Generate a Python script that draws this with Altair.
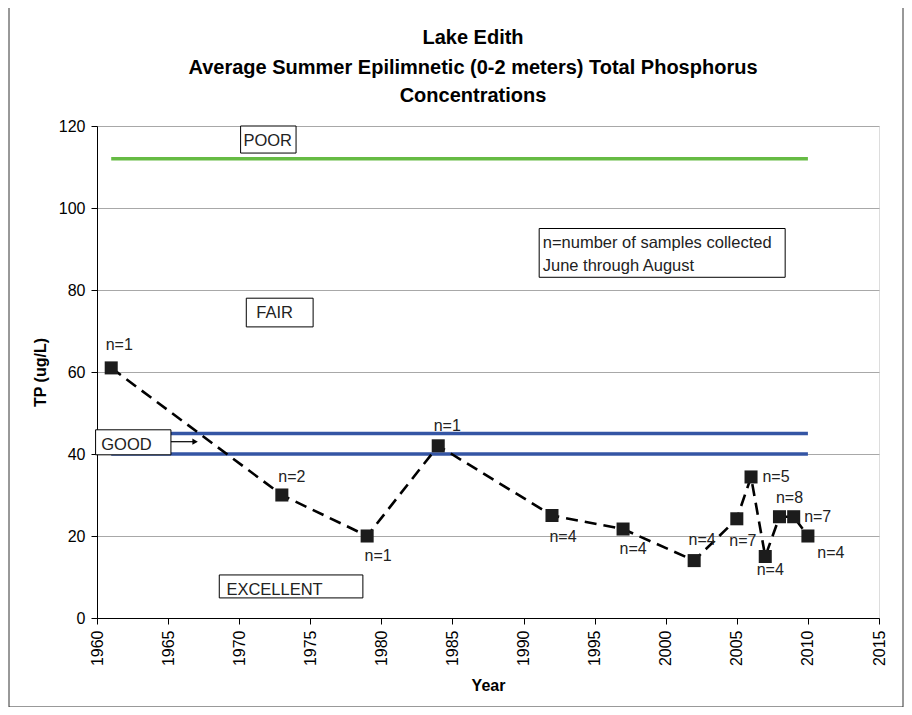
import altair as alt
import pandas as pd

FONT = "Liberation Sans"

# ---- data ----
years = [1961, 1973, 1979, 1984, 1992, 1997, 2002, 2005, 2006, 2007, 2008, 2009, 2010]
tp = [61, 30, 20, 42, 25, 21.7, 14, 24.2, 34.4, 15, 24.7, 24.7, 20]
n_labels = ["n=1", "n=2", "n=1", "n=1", "n=4", "n=4", "n=4", "n=7", "n=5", "n=4", "n=8", "n=7", "n=4"]
# label offsets from their point (pixels)
label_dx = [8, 10, 11, 9, 11, 10, 8, 6, 25, 5, 10, 24, 23]
label_dy = [-23, -18, 20, -20, 21, 20, -21, 22, 0, 13, -19, 0, 17]

x_ticks = list(range(1960, 2016, 5))
y_ticks = list(range(0, 121, 20))

title_lines = ["Lake Edith", "Average Summer Epilimnetic (0-2 meters) Total Phosphorus", "Concentrations"]

thr_values = [112, 45, 40]
thr_colors = ["#66bb44", "#3455a4", "#3455a4"]
thr_start = 1961
thr_end = 2010

# annotation boxes (data coordinates)
box_names = ["POOR", "FAIR", "GOOD", "EXCELLENT", "NOTE"]
box_x1 = [1970.1, 1970.5, 1959.9, 1968.6, 1991.1]
box_x2 = [1974.0, 1975.2, 1965.2, 1978.7, 2008.4]
box_y1 = [113.4, 71.0, 39.8, 4.9, 83.1]
box_y2 = [120.0, 78.0, 45.9, 10.5, 95.0]

txt_lines = ["POOR", "FAIR", "GOOD", "EXCELLENT", "n=number of samples collected", "June through August"]
txt_x = [1970.3, 1971.2, 1960.3, 1969.1, 1991.35, 1991.35]
txt_y = [116.4, 74.4, 42.2, 6.8, 91.4, 85.8]

W, H = 782, 492
XDOM = [1960, 2015]
YDOM = [0, 120]
px_per_year = W / (XDOM[1] - XDOM[0])
px_per_unit = H / (YDOM[1] - YDOM[0])

df = pd.DataFrame({"Year": years, "TP": tp, "n": n_labels})
df["lx"] = [y + dx / px_per_year for y, dx in zip(years, label_dx)]
df["ly"] = [v - dy / px_per_unit for v, dy in zip(tp, label_dy)]

thr = pd.DataFrame({"v": thr_values, "c": thr_colors, "x1": thr_start, "x2": thr_end})
boxes = pd.DataFrame({"name": box_names, "x1": box_x1, "x2": box_x2, "y1": box_y1, "y2": box_y2})
texts = pd.DataFrame({"t": txt_lines, "x": txt_x, "y": txt_y})
arrow = pd.DataFrame({"x1": [1965.2], "x2": [1966.9], "y": [43.0]})

xs = alt.Scale(domain=XDOM, nice=False, zero=False)
ys = alt.Scale(domain=YDOM, nice=False)

x_axis = alt.Axis(
    title="Year", values=x_ticks, format="d", labelAngle=270, grid=False,
    domainColor="black", tickColor="black", tickSize=6, labelPadding=6,
    labelFont=FONT, labelFontSize=16, labelColor="black",
    titleFont=FONT, titleFontSize=16, titleFontWeight="bold", titleColor="black", titlePadding=12,
)
y_axis = alt.Axis(
    title="TP (ug/L)", values=y_ticks, grid=True, gridColor="#a8a8a8", gridWidth=1.2,
    domainColor="black", tickColor="black", tickSize=6, labelPadding=6,
    labelFont=FONT, labelFontSize=16, labelColor="black",
    titleFont=FONT, titleFontSize=16, titleFontWeight="bold", titleColor="black", titlePadding=10,
)

frame = alt.Chart(pd.DataFrame({"a": [0]})).mark_rect(
    fill=None, stroke="#333333", strokeWidth=1
).encode(x=alt.value(-88), x2=alt.value(806), y=alt.value(-119), y2=alt.value(581))

title_marks = [
    alt.Chart(pd.DataFrame({"t": [t]})).mark_text(
        font=FONT, fontSize=20, fontWeight="bold", color="black", align="center", baseline="middle"
    ).encode(x=alt.value(376), y=alt.value(yy), text="t:N")
    for t, yy in zip(title_lines, [-88, -58, -30])
]

thr_lines = alt.Chart(thr).mark_rule(strokeWidth=3.5).encode(
    x=alt.X("x1:Q", scale=xs, axis=x_axis),
    x2="x2:Q",
    y=alt.Y("v:Q", scale=ys, axis=y_axis),
    color=alt.Color("c:N", scale=None),
)

line = alt.Chart(df).mark_line(color="black", strokeWidth=2.6, strokeDash=[12, 7]).encode(
    x=alt.X("Year:Q", scale=xs), y=alt.Y("TP:Q", scale=ys)
)
pts = alt.Chart(df).mark_square(size=170, color="#1c1c1c", opacity=1).encode(
    x=alt.X("Year:Q", scale=xs), y=alt.Y("TP:Q", scale=ys)
)
nlab = alt.Chart(df).mark_text(font=FONT, fontSize=16, color="#222222").encode(
    x=alt.X("lx:Q", scale=xs), y=alt.Y("ly:Q", scale=ys), text="n:N"
)

box_marks = alt.Chart(boxes).mark_rect(fill="white", stroke="black", strokeWidth=1).encode(
    x=alt.X("x1:Q", scale=xs), x2="x2:Q", y=alt.Y("y1:Q", scale=ys), y2="y2:Q"
)
box_text = alt.Chart(texts).mark_text(font=FONT, fontSize=16.5, color="#222222", align="left", baseline="middle").encode(
    x=alt.X("x:Q", scale=xs), y=alt.Y("y:Q", scale=ys), text="t:N"
)
arrow_line = alt.Chart(arrow).mark_rule(color="black", strokeWidth=1.2).encode(
    x=alt.X("x1:Q", scale=xs), x2="x2:Q", y=alt.Y("y:Q", scale=ys)
)
arrow_head = alt.Chart(arrow).mark_point(shape="triangle-right", filled=True, color="black", size=40, opacity=1).encode(
    x=alt.X("x2:Q", scale=xs), y=alt.Y("y:Q", scale=ys)
)

chart = alt.layer(
    frame, *title_marks, thr_lines, line, pts, nlab, box_marks, box_text, arrow_line, arrow_head
).properties(
    width=W, height=H,
    autosize=alt.AutoSizeParams(type="none"),
    padding={"left": 89, "top": 118, "right": 25, "bottom": 89},
).configure_view(stroke="#a0a0a0", strokeWidth=1.2).configure(background="white")

chart.save("out.html", embed_options={"renderer": "svg", "actions": False})
